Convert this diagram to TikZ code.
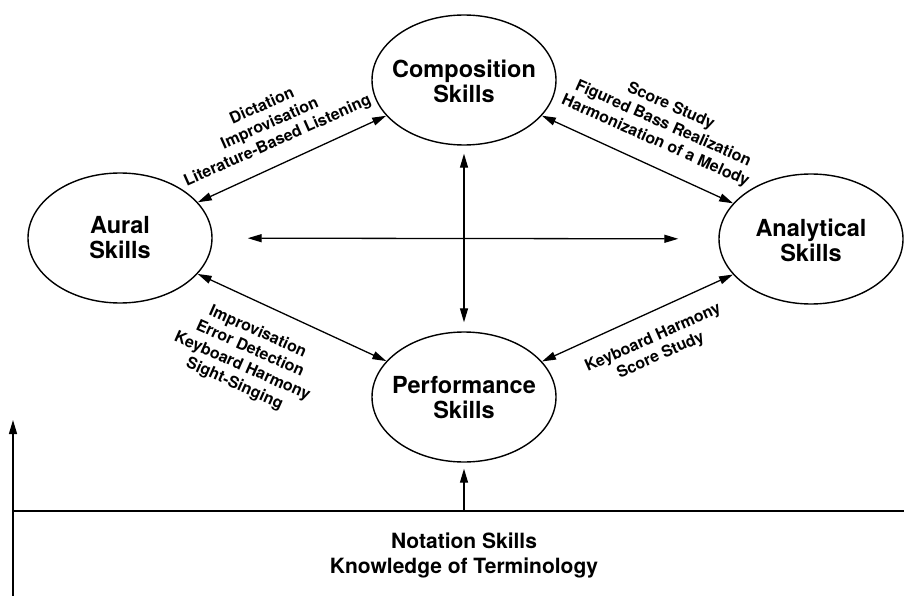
\documentclass[tikz,border=0pt]{standalone}
\usepackage{fontspec}
\setmainfont{TeX Gyre Heros}
\usetikzlibrary{shapes.geometric,arrows.meta}
\begin{document}
\begin{tikzpicture}[x=1pt,y=-1pt,
  skill/.style={ellipse, draw, line width=1.4pt, minimum width=184pt, minimum height=130pt, inner sep=0pt},
  skilltext/.style={font=\fontsize{23.5}{25}\selectfont\bfseries, align=center, inner sep=0pt},
  edgetext/.style={font=\fontsize{16}{19}\selectfont\bfseries, align=center, inner sep=0pt},
  basetext/.style={font=\fontsize{21}{25}\selectfont\bfseries, align=center, inner sep=0pt},
  link/.style={line width=1.3pt, {Triangle[length=14pt,width=8pt]}-{Triangle[length=14pt,width=8pt]}},
  uparrow/.style={line width=1.3pt, -{Triangle[length=14pt,width=8pt]}},
  baseline/.style={line width=1.4pt},
]
\useasboundingbox (0,0) rectangle (904,596);

% ellipses
\node[skill] (comp) at (464,80) {};
\node[skill] (aural) at (120,238) {};
\node[skill] (anal) at (811,239) {};
\node[skill] (perf) at (464,397) {};

\node[skilltext] (compt) at (464,81) {Composition\\Skills};
\node[skilltext] (auralt) at (120,238) {Aural\\Skills};
\node[skilltext] (analt) at (811,240) {Analytical\\Skills};
\node[skilltext] (perft) at (464,398) {Performance\\Skills};

% connectors between skills
\draw[link] (aural) -- (comp);
\draw[link] (comp) -- (anal);
\draw[link] (aural) -- (perf);
\draw[link] (anal) -- (perf);
\draw[link, shorten <=35pt, shorten >=40pt] (aural) -- (anal);
\draw[link, shorten <=8pt, shorten >=9pt] (comp) -- (perf);

% edge labels
\node[edgetext, rotate=24] (l1) at (270,124) {Dictation\\Improvisation\\Literature-Based Listening};
\node[edgetext, rotate=-24] (l2) at (663,124) {Score Study\\Figured Bass Realization\\Harmonization of a Melody};
\node[edgetext, rotate=-24] (l3) at (246,358) {Improvisation\\Error Detection\\Keyboard Harmony\\Sight-Singing};
\node[edgetext, rotate=24] (l4) at (657,347) {Keyboard Harmony\\Score Study};

% foundation
\coordinate (hl) at (13,511);
\coordinate (hr) at (904,511);
\coordinate (hm) at (464,511);
\coordinate (vb) at (13,596);
\coordinate (vt) at (13,420);
\draw[baseline] (hl) -- (hr);
\draw[uparrow] (vb) -- (vt);
\draw[uparrow, shorten >=6pt] (hm) -- (perf.south);

\node[basetext] (found) at (464,555) {Notation Skills\\Knowledge of Terminology};
\end{tikzpicture}
\end{document}
